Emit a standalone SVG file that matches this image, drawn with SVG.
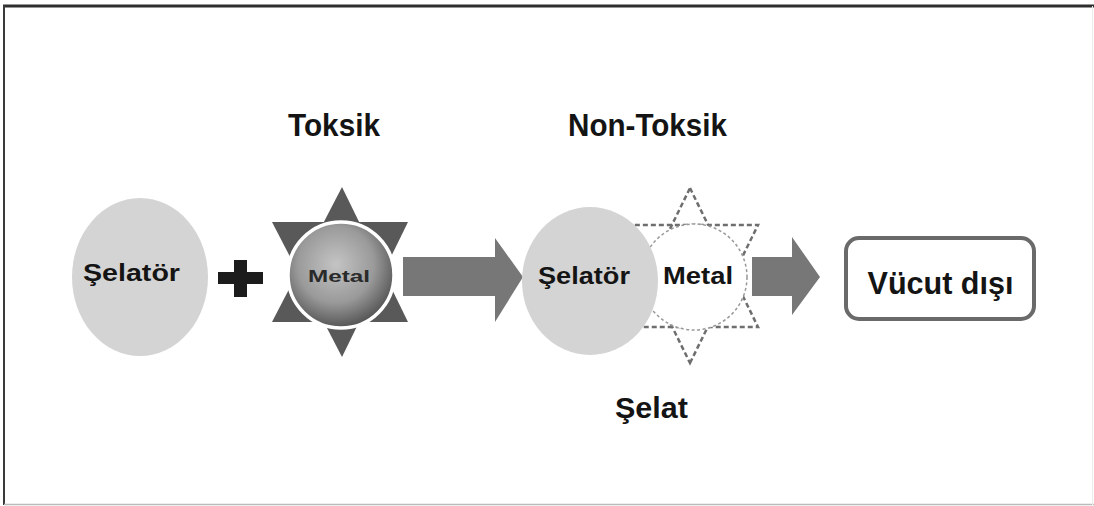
<svg xmlns="http://www.w3.org/2000/svg" width="1094" height="506" viewBox="0 0 1094 506">
<style>
.t{font-family:"Liberation Sans",Arial,sans-serif;font-weight:bold;fill:#141414}
.ell{fill:#d4d4d4}
.arrow{fill:#777}
.tri{fill:#595959}
.dtri{fill:none;stroke:#6e6e6e;stroke-width:2.5;stroke-dasharray:5 3}
</style>
<defs>
<radialGradient id="mg" cx="0.45" cy="0.4" r="0.6">
<stop offset="0" stop-color="#c4c4c4"/>
<stop offset="0.6" stop-color="#9a9a9a"/>
<stop offset="1" stop-color="#555"/>
</radialGradient>
</defs>
<rect width="1094" height="506" fill="#fff"/>
<g id="frame">
<line x1="3" y1="6" x2="1094" y2="6" stroke="#2e2e2e" stroke-width="3"/>
<line x1="4" y1="5" x2="4" y2="505" stroke="#3a3a3a" stroke-width="2"/>
<line x1="4" y1="504.5" x2="1094" y2="504.5" stroke="#bbb" stroke-width="1.5"/>
<line x1="1092.5" y1="6" x2="1092.5" y2="505" stroke="#ececec" stroke-width="1"/>
</g>
<g id="labels">
<text class="t" x="334" y="136" font-size="31" text-anchor="middle" textLength="92" lengthAdjust="spacingAndGlyphs">Toksik</text>
<text class="t" x="647.5" y="136" font-size="31" text-anchor="middle" textLength="159" lengthAdjust="spacingAndGlyphs">Non-Toksik</text>
<text class="t" x="651.5" y="418" font-size="29" text-anchor="middle" textLength="73" lengthAdjust="spacingAndGlyphs">Şelat</text>
</g>
<g id="connectors">
<polygon class="arrow" points="403,257 495,257 495,238 523,277 495,322 495,296 403,296"/>
<polygon class="arrow" points="752,257 792,257 792,237 820,277 792,315 792,296 752,296"/>
</g>
<g id="chelator-left">
<ellipse class="ell" cx="140" cy="277" rx="68" ry="79"/>
<text class="t" x="131.5" y="281" font-size="24" text-anchor="middle" textLength="97" lengthAdjust="spacingAndGlyphs">Şelatör</text>
</g>
<g id="plus">
<rect x="218" y="272" width="45" height="12" fill="#1c1c1c"/>
<rect x="234" y="260" width="13" height="37" fill="#1c1c1c"/>
</g>
<g id="metal-toxic">
<polygon class="tri" points="342,187 408,322 272,322"/>
<polygon class="tri" points="342,357 408,222 272,222"/>
<circle cx="341" cy="275" r="53" fill="url(#mg)" stroke="#fff" stroke-width="3.5"/>
<text x="339" y="282" font-family="Liberation Sans,Arial,sans-serif" font-weight="bold" font-size="17" fill="#2a2a2a" text-anchor="middle" textLength="62" lengthAdjust="spacingAndGlyphs">Metal</text>
</g>
<g id="chelate">
<polygon class="dtri" points="690,188 758,327 622,327"/>
<polygon class="dtri" points="690,363 758,225 622,225"/>
<circle cx="694" cy="277" r="53" fill="#fff" stroke="#999" stroke-width="1.5" stroke-dasharray="3 2.5"/>
<ellipse class="ell" cx="590" cy="281" rx="68" ry="74"/>
<text class="t" x="584" y="284" font-size="24" text-anchor="middle" textLength="92" lengthAdjust="spacingAndGlyphs">Şelatör</text>
<text class="t" x="698" y="284" font-size="24" text-anchor="middle" textLength="70" lengthAdjust="spacingAndGlyphs">Metal</text>
</g>
<g id="out">
<rect x="846" y="238" width="188" height="81" rx="13" fill="#fff" stroke="#6a6a6a" stroke-width="4"/>
<text class="t" x="940.5" y="294" font-size="31" text-anchor="middle" textLength="146" lengthAdjust="spacingAndGlyphs">Vücut dışı</text>
</g>
</svg>
